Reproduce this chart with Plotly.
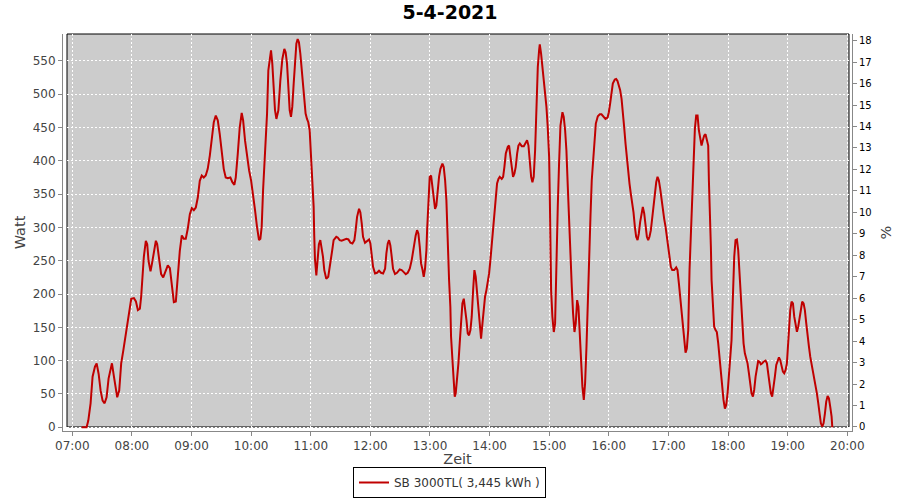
import pandas as pd
import plotly.graph_objects as go

# ---------------- data ----------------
title_text = "5-4-2021"
series_name = "SB 3000TL( 3,445 kWh )"
day_start = "2021-04-05 07:00"

# time of each sample, in minutes after 07:00
minutes_after_0700 = [
    9.4, 14.4, 16.1, 18.4, 20.4, 22.8, 24.5, 26.5, 28.5, 30.5, 32.5, 34.5, 36.5, 38.5, 39.9,
    41.9, 43.9, 45.2, 47.2, 49.2, 51.3, 53.3, 55.3, 57.3, 59.3, 62.0, 64.0, 66.0, 68.0, 69.3,
    70.7, 72.0, 74.0, 75.4, 76.7, 78.7, 80.1, 82.1, 84.1, 85.4, 87.4, 89.4, 91.5, 94.1, 96.1,
    98.2, 100.2, 102.2, 104.2, 106.2, 108.2, 110.2, 112.2, 114.2, 116.2, 118.3, 120.3, 122.3,
    124.3, 126.3, 128.3, 130.3, 132.3, 134.3, 136.3, 138.4, 140.4, 142.4, 144.4, 146.4, 148.4,
    150.4, 152.4, 154.4, 156.4, 159.1, 161.1, 163.1, 164.5, 166.5, 168.5, 170.5, 171.9, 173.9,
    175.9, 177.9, 179.9, 181.9, 183.9, 185.9, 187.9, 189.3, 190.6, 192.0, 193.3, 194.6, 196.0,
    197.3, 198.7, 200.0, 201.3, 202.7, 204.0, 205.4, 207.4, 209.4, 211.4, 213.4, 214.7, 216.1,
    217.4, 218.8, 220.1, 221.4, 222.8, 224.1, 225.5, 226.8, 228.1, 229.5, 230.8, 232.2, 233.5,
    234.8, 236.2, 237.5, 238.9, 240.2, 241.5, 242.9, 243.5, 244.2, 245.6, 246.9, 248.2, 249.6,
    250.9, 252.3, 253.6, 255.6, 257.6, 259.6, 261.6, 263.0, 265.7,
    267.1, 269.1, 271.1, 273.2, 275.8, 277.9, 279.9, 281.9, 283.9, 285.2, 286.6, 288.6, 289.9,
    291.3, 292.6, 294.6, 296.6, 298.7, 300.0, 301.3, 302.7, 304.7, 306.7, 308.7, 310.7, 312.8,
    314.8, 316.1, 317.5, 318.8, 320.1, 321.5, 322.8, 324.8, 326.8, 329.5, 331.5, 333.6, 335.6,
    337.6, 339.6, 341.6, 343.6, 345.6, 347.0, 348.3, 349.7, 351.0, 352.4, 353.7, 355.0, 356.4,
    357.1, 358.4, 359.7, 361.1, 362.4, 363.8, 365.1, 366.4, 367.8, 369.1, 370.5, 372.5, 373.8,
    375.2, 376.5, 377.2, 378.5, 379.2, 380.5, 381.2, 382.6, 383.9, 384.9, 385.9, 387.3, 388.6,
    389.9, 391.3, 392.6, 394.0, 395.3, 396.7, 398.0, 399.3, 400.7, 402.0, 403.4, 404.7, 406.0,
    407.4, 408.7, 410.1, 411.4, 412.8, 414.1, 415.4, 416.8, 418.1, 419.5, 420.8, 422.2, 423.5,
    424.8, 426.2, 427.5, 428.9, 430.2, 432.2, 433.6, 434.9, 436.3, 438.3, 439.6, 441.0, 442.3,
    443.6, 445.0, 446.3, 447.7, 449.0, 450.4, 452.4, 454.4, 456.4, 457.7, 459.1, 460.4, 461.8,
    463.1, 464.4, 465.8, 467.1, 468.5, 469.8, 470.5, 471.8, 473.2, 474.5, 475.9, 477.2, 478.5,
    479.9, 480.6, 481.2, 481.9, 483.2, 484.6, 485.9, 486.6, 487.3, 488.6, 489.9, 491.3, 493.3,
    494.6, 496.0, 497.3, 498.7, 500.0, 501.4, 502.7, 504.0, 505.4, 506.7, 508.1, 509.4, 510.8,
    512.1, 513.4, 514.8, 516.1, 517.5, 518.8, 520.2, 521.5, 522.8, 524.2, 525.5, 526.9, 528.9,
    530.9,
    532.6, 534.6, 536.6, 538.7, 540.0, 541.3, 542.7, 544.0, 546.0, 547.4, 548.7, 550.1, 551.4,
    552.8, 554.1, 555.4, 556.8, 558.1, 559.5, 560.8, 562.1, 563.5, 564.8, 566.2, 567.5, 568.9,
    570.2, 571.5, 572.9, 574.2, 575.6, 576.9, 578.3, 579.6, 580.9, 582.3, 583.6, 585.0, 586.3,
    587.7, 589.0, 590.3, 591.7, 593.0, 594.4, 595.7, 597.1, 598.4, 599.7, 601.1, 602.4, 603.8,
    605.8, 607.8, 609.1, 610.5, 611.8, 613.2, 614.5, 615.8, 617.2, 618.5, 619.9, 621.2, 622.6,
    623.9, 624.6, 625.2, 626.6, 627.9, 629.3, 630.6, 632.0, 633.3, 634.6, 636.0, 637.3, 638.7,
    640.0, 640.7, 642.0, 642.7, 643.4, 644.7, 646.0, 647.4, 648.7, 650.1, 651.4, 652.8, 654.1,
    655.4, 656.8, 658.1, 659.5, 660.8, 662.2, 663.5, 664.2, 664.8, 665.5, 666.2, 667.5, 668.9,
    670.2, 671.6, 672.9, 674.2, 675.6, 676.9, 678.3, 679.6, 681.0, 682.3, 683.6, 685.0, 686.3,
    687.7, 689.0, 690.3, 691.7, 693.0, 694.4, 695.7, 697.7, 699.1, 700.4, 701.8, 703.1, 704.4,
    705.8, 707.1, 708.5, 709.8, 711.2, 712.5, 713.8, 715.2, 716.5, 717.9, 719.2, 719.9, 721.2,
    722.6, 723.9, 725.3, 726.6, 727.9, 729.3, 730.6, 732.0, 733.3, 734.6, 736.0, 737.3, 738.7,
    740.0, 741.4, 742.7, 744.0, 745.4, 746.7, 748.1, 749.4, 750.8, 752.1, 753.4, 754.8, 756.1,
    757.5, 758.8, 760.2, 761.5, 762.8, 764.2, 764.9,
]

# power in Watt at each sample
watt = [
    0, 0, 10, 36, 76, 91, 96, 80, 55, 40, 36, 45, 73, 90, 96,
    76, 55, 45, 55, 96, 115, 135, 155, 175, 193, 194, 189, 176, 178, 196,
    226, 256, 280, 275, 250, 234, 245, 265, 280, 275, 250, 230, 225, 235, 243,
    239, 215, 188, 189, 226, 265, 288, 283, 283, 298, 320, 329, 326,
    330, 345, 370, 378, 375, 378, 388, 408, 435, 458, 468, 461, 440,
    410, 388, 375, 374, 375, 368, 364, 375, 410, 450, 472, 461, 430,
    403, 386, 371, 351, 326, 301, 281, 283, 301, 356, 396, 430, 471,
    536, 556, 566, 546, 506, 476, 463, 476, 521, 553, 568, 563, 546,
    516, 476, 466, 481, 516, 556, 576, 583, 578, 561, 536, 511, 493,
    471, 463, 458, 446, 411, 376, 331, 288, 253, 228, 256, 275, 281,
    271, 256, 236, 223, 226, 243, 266, 281, 286,
    285, 281, 280, 281, 283, 282, 277, 276, 281, 296, 316, 328, 323,
    306, 286, 277, 280, 282, 276, 261, 241, 231, 232, 235, 232, 231,
    238, 261, 276, 281, 273, 256, 238, 230, 232, 237, 236, 233, 230,
    232, 238, 251, 271, 288, 296, 291, 271, 246, 237, 226, 238, 266,
    296, 331, 376, 378, 361, 341, 328, 333, 356, 376, 388, 396, 391,
    371, 341, 306, 266, 221, 181, 136, 101, 71, 46, 51, 71, 96,
    126, 166, 186, 193, 181, 161, 141, 138, 146, 166, 206, 236, 226,
    201, 171, 146, 133, 156, 181, 196, 206, 218, 231, 251, 276, 306,
    331, 351, 366, 373, 376, 373, 376, 391, 411, 421, 423, 406, 386,
    376, 381, 391, 411, 423, 426, 422, 422, 428, 431, 423, 401, 376,
    368, 376, 416, 496, 541, 566, 575, 561, 541, 516, 501, 481, 451,
    406, 346, 271, 206, 166, 143, 156, 206, 266, 331, 396, 453, 473,
    466, 446, 416, 361, 306, 256, 211, 171, 143, 156, 191, 181, 136,
    86, 61, 41, 66, 121, 196, 256, 316, 371, 406, 436, 456, 467,
    470,
    470, 466, 463, 465, 473, 486, 503, 516, 522, 523, 520, 513, 506,
    493, 476, 451, 426, 403, 386, 366, 351, 338, 323, 301, 286, 281,
    291, 308, 323, 331, 321, 301, 286, 281, 286, 296, 316, 336, 356,
    368, 376, 371, 358, 341, 326, 313, 301, 286, 271, 251, 241, 236,
    236, 240, 236, 216, 196, 171, 146, 126, 112, 118, 146, 236, 291,
    341, 376, 421, 448, 468, 468, 446, 431, 423, 431, 438, 440, 428,
    423, 371, 321, 271, 221, 186, 151, 146, 143, 126, 103, 81, 61,
    41, 28, 33, 51, 76, 101, 131, 166, 196, 226, 256, 281, 282,
    266, 226, 196, 156, 126, 111, 103, 96, 81, 66, 51, 46, 56,
    76, 91, 99.5, 98.5, 94.5, 96, 98.5, 100, 96, 81, 66, 51, 46,
    58.5, 76, 93.5, 101, 105, 101, 91, 83.5, 81, 86, 96, 116, 146,
    176, 188.5, 186, 166, 151, 143.5, 151, 166, 181, 188.5, 186, 176, 156,
    136, 121, 106, 96, 86, 76, 66, 51, 36, 21, 6, 1, 6,
    21, 38.5, 47, 43.5, 31, 16, 0,
]

watt_ticks = list(range(0, 551, 50))
percent_ticks = list(range(0, 19))

# ---------------- figure ----------------
times = pd.Timestamp(day_start) + pd.to_timedelta(minutes_after_0700, unit="min")

FONT = "DejaVu Sans"
AXIS_GREY = "#888888"

fig = go.Figure()
fig.add_trace(go.Scatter(
    x=times, y=watt, mode="lines", name=series_name,
    line=dict(color="#c00000", width=2),
))
# carrier for the right-hand percent axis
fig.add_trace(go.Scatter(
    x=[times[0]], y=[None], yaxis="y2", mode="lines",
    showlegend=False, hoverinfo="skip",
))

common_axis = dict(
    showline=True, linecolor=AXIS_GREY, linewidth=1,
    ticks="outside", ticklen=4, tickcolor=AXIS_GREY, tickwidth=1,
    zeroline=False, automargin=False,
)

fig.update_layout(
    width=900, height=500,
    margin=dict(l=63, r=48, t=34, b=69, pad=0, autoexpand=False),
    paper_bgcolor="white", plot_bgcolor="white",
    font=dict(family=FONT, size=12, color="#444444"),
    title=dict(
        text=title_text, x=0.5, xref="container", xanchor="center",
        y=1 - 12.5 / 500, yref="container", yanchor="middle",
        font=dict(family=FONT, size=19, color="#000000", weight=700),
    ),
    xaxis=dict(
        type="date",
        range=["2021-04-05 06:50:38", "2021-04-05 20:04:44"],
        tick0="2021-04-05 07:00", dtick=3600000, tickformat="%H:%M",
        showgrid=True, gridcolor="white", gridwidth=1, griddash="2px,2px",
        tickfont=dict(size=12, color="#444444"),
        title=dict(text="Zeit", font=dict(size=14.5, color="#444444"), standoff=2),
        **common_axis,
    ),
    yaxis=dict(
        range=[-5.6, 590.5],
        tickmode="array", tickvals=watt_ticks,
        showgrid=True, gridcolor="white", gridwidth=1, griddash="2px,2px",
        tickfont=dict(size=12, color="#444444"),
        title=dict(text="Watt", font=dict(size=14.5, color="#444444"), standoff=3),
        **common_axis,
    ),
    yaxis2=dict(
        overlaying="y", side="right",
        range=[-0.19, 18.31],
        tickmode="array", tickvals=percent_ticks,
        showgrid=False,
        tickfont=dict(size=10, color="#000000"),
        title=dict(text="%", font=dict(size=14.5, color="#444444"), standoff=10),
        **common_axis,
    ),
    showlegend=True,
    legend=dict(
        orientation="h", xref="container", x=449.5 / 900, xanchor="center",
        yref="container", y=2 / 500, yanchor="bottom",
        bordercolor="#000000", borderwidth=1, bgcolor="white",
        font=dict(size=12, color="#333333"), itemwidth=30,
    ),
    shapes=[
        dict(type="rect", xref="paper", yref="paper",
             x0=0.00507, x1=0.9962, y0=0.01008, y1=1.0,
             fillcolor="#cccccc", line=dict(width=0), layer="below"),
        dict(type="rect", xref="paper", yref="paper",
             x0=0.00507, x1=0.9962, y0=0.01008, y1=1.0,
             fillcolor="rgba(0,0,0,0)", line=dict(color="#000000", width=1),
             layer="between"),
    ],
)

fig.write_html(
    "out.html",
    config={"displayModeBar": False},
    post_script="document.body.style.margin='0';",
)
